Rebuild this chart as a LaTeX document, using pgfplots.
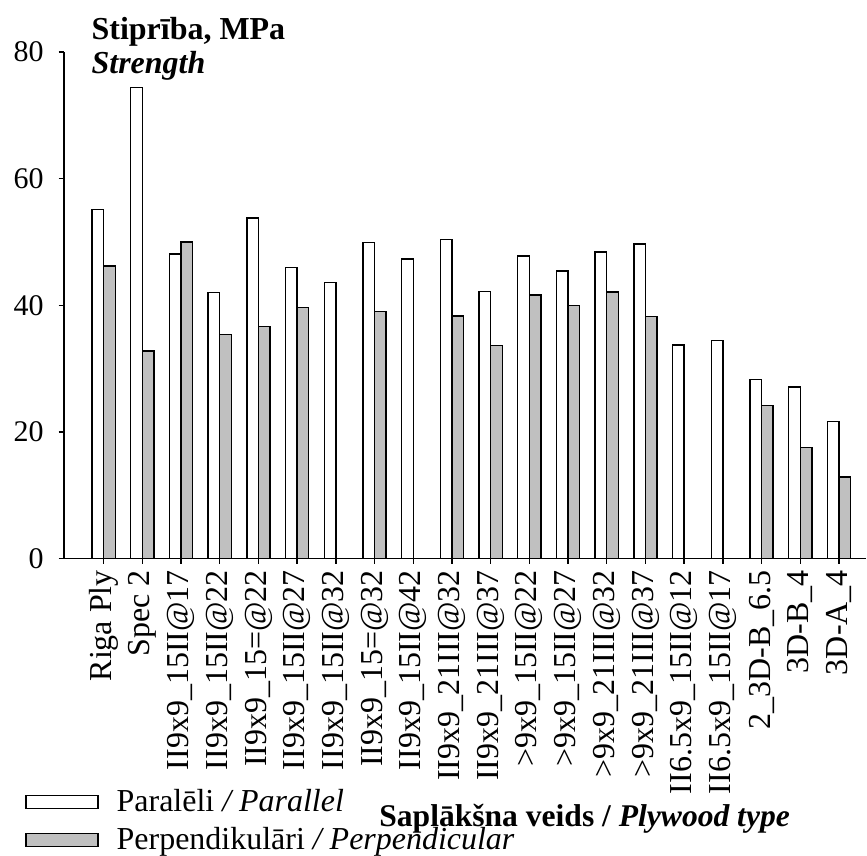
\documentclass[border=0pt]{standalone}
\usepackage{fontspec}
\setmainfont{Liberation Serif}
\usepackage{pgfplots}
\pgfplotsset{compat=1.18}
\definecolor{barGrey}{RGB}{192,192,192}

\pgfplotstableread{
x par perp
0 55.1 46.2
1 74.4 32.8
2 48.1 50.0
3 42.0 35.4
4 53.8 36.6
5 46.0 39.6
6 43.6 nan
7 49.9 39.0
8 47.3 nan
9 50.4 38.3
10 42.2 33.6
11 47.8 41.6
12 45.4 40.0
13 48.4 42.1
14 49.7 38.2
15 33.7 nan
16 34.4 nan
17 28.3 24.2
18 27.1 17.5
19 21.6 12.9
}\strength

\begin{document}
\begin{tikzpicture}
\begin{axis}[
    scale only axis,
    width=401.5pt, height=253.5pt,
    ybar=0pt, bar width=5.8pt,
    xmin=-1.026, xmax=19.705,
    ymin=0, ymax=80,
    ytick={0,20,40,60,80},
    xtick={0,...,19},
    xticklabels={Riga Ply, Spec 2, II9x9\_15II@17, II9x9\_15II@22, II9x9\_15=@22,
        II9x9\_15II@27, II9x9\_15II@32, II9x9\_15=@32, II9x9\_15II@42,
        II9x9\_21III@32, II9x9\_21III@37, >9x9\_15II@22, >9x9\_15II@27,
        >9x9\_21III@32, >9x9\_21III@37, II6.5x9\_15II@12, II6.5x9\_15II@17,
        2\_3D-B\_6.5, 3D-B\_4, 3D-A\_4},
    x tick label style={rotate=90, anchor=east, font=\fontsize{16}{17}\selectfont, inner sep=0pt, xshift=-3pt},
    y tick label style={font=\fontsize{15}{16}\selectfont, xshift=-4pt},
    /pgf/number format/assume math mode=true,
    axis x line*=bottom, axis y line*=left,
    axis line style={line width=0.8pt},
    tick align=outside, major tick length=2.7pt,
    tick style={black, line width=0.7pt},
    clip=false,
    legend style={at={(rel axis cs:-0.0486,-0.455)}, anchor=north west,
        draw=none, fill=none, font=\fontsize{16}{17}\selectfont,
        row sep=6.5pt, inner sep=0pt,
        /tikz/every even column/.append style={column sep=0pt},
        nodes={inner sep=0pt},
        legend cell align=left},
    legend image code/.code={\draw[#1, line width=0.7pt] (0pt,-3.25pt) rectangle (36pt,3.25pt); \path (45pt,0pt);},
]
\addplot[draw=black, fill=white, line width=0.7pt] table[x=x, y=par] {\strength};
\addplot[draw=black, fill=barGrey, line width=0.7pt] table[x=x, y=perp] {\strength};
\legend{Paralēli \textit{/ Parallel}, Perpendikulāri \textit{/ Perpendicular}}
\node[anchor=base west, inner sep=0pt, font=\fontsize{16}{17}\selectfont\bfseries] at (rel axis cs:0.034,1.0256) {Stiprība, MPa};
\node[anchor=base west, inner sep=0pt, font=\fontsize{16}{17}\selectfont\bfseries\itshape] at (rel axis cs:0.034,0.9566) {Strength};
\node[anchor=base, inner sep=0pt, font=\fontsize{15.8}{16}\selectfont\bfseries] at (rel axis cs:0.649,-0.5286) {Saplākšna veids / \textit{Plywood type}};
\path (rel axis cs:-0.0797,1.1026) rectangle (rel axis cs:1.0,-0.5858);
\end{axis}
\end{tikzpicture}
\end{document}
